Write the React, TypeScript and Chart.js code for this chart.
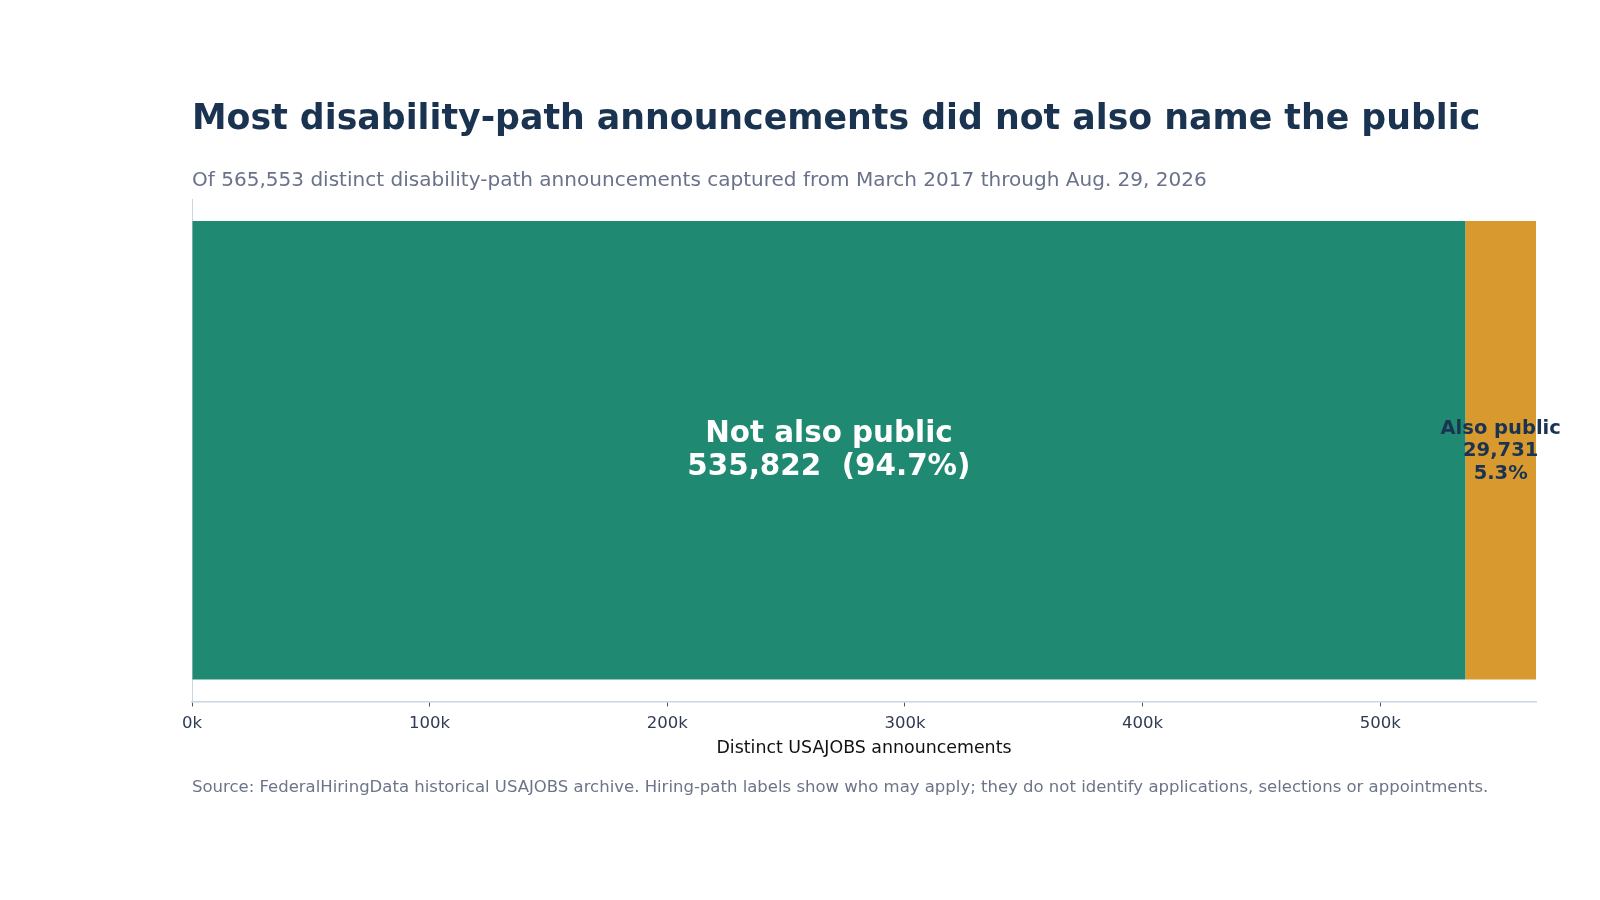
import React, { useEffect, useRef } from "react";
import { Chart, registerables } from "chart.js";

Chart.register(...registerables);

// ---- data ----
const categories = ["Disability-path announcements"];
const seriesNames = ["Not also public", "Also public"];
const notAlsoPublic = [535822];
const alsoPublic = [29731];
const totalAnnouncements = 565553;
const tickValues = [0, 100000, 200000, 300000, 400000, 500000];
const tickLabels = ["0k", "100k", "200k", "300k", "400k", "500k"];

const titleText = "Most disability-path announcements did not also name the public";
const subtitleText =
  "Of 565,553 distinct disability-path announcements captured from March 2017 through Aug. 29, 2026";
const sourceText =
  "Source: FederalHiringData historical USAJOBS archive. Hiring-path labels show who may apply; they do not identify applications, selections or appointments.";
const axisTitle = "Distinct USAJOBS announcements";

const GREEN = "#208971";
const ORANGE = "#D8992E";
const NAVY = "#1A3350";
const AXIS = "#C9D4E4";

const fmt = (n: number) => n.toLocaleString("en-US");

const textPlugin = {
  id: "textPlugin",
  afterDraw(chart: any) {
    const ctx = chart.ctx;
    ctx.save();
    ctx.textAlign = "left";
    ctx.textBaseline = "alphabetic";
    ctx.fillStyle = NAVY;
    ctx.font = "bold 34.75px 'DejaVu Sans'";
    ctx.fillText(titleText, 192, 129);
    ctx.fillStyle = "#69728A";
    ctx.font = "20.05px 'DejaVu Sans'";
    ctx.fillText(subtitleText, 192, 186);
    ctx.fillStyle = "#6B7489";
    ctx.font = "16.5px 'DejaVu Sans'";
    ctx.fillText(sourceText, 192, 792);

    // bar labels
    const m0 = chart.getDatasetMeta(0).data[0];
    const m1 = chart.getDatasetMeta(1).data[0];
    const total = notAlsoPublic[0] + alsoPublic[0];
    ctx.textAlign = "center";
    ctx.textBaseline = "middle";
    if (m0) {
      const cx = (m0.x + m0.base) / 2;
      ctx.fillStyle = "#FFFFFF";
      ctx.font = "bold 29.4px 'DejaVu Sans'";
      ctx.fillText(seriesNames[0], cx, m0.y - 16);
      ctx.fillText(
        fmt(notAlsoPublic[0]) + "  (" + ((notAlsoPublic[0] / total) * 100).toFixed(1) + "%)",
        cx,
        m0.y + 17
      );
    }
    if (m1) {
      const cx = (m1.x + m1.base) / 2;
      ctx.fillStyle = NAVY;
      ctx.font = "bold 19.5px 'DejaVu Sans'";
      ctx.fillText(seriesNames[1], cx, m1.y - 21.5);
      ctx.fillText(fmt(alsoPublic[0]), cx, m1.y + 1);
      ctx.fillText(((alsoPublic[0] / total) * 100).toFixed(1) + "%", cx, m1.y + 23.5);
    }
    ctx.restore();
  },
};

export default function App() {
  const ref = useRef<HTMLCanvasElement | null>(null);
  useEffect(() => {
    if (!ref.current) return;
    const chart = new Chart(ref.current, {
      type: "bar",
      data: {
        labels: categories,
        datasets: [
          {
            label: seriesNames[0],
            data: notAlsoPublic,
            backgroundColor: GREEN,
            borderWidth: 0,
            barPercentage: 0.912,
            categoryPercentage: 1,
          },
          {
            label: seriesNames[1],
            data: alsoPublic,
            backgroundColor: ORANGE,
            borderWidth: 0,
            barPercentage: 0.912,
            categoryPercentage: 1,
          },
        ],
      },
      options: {
        indexAxis: "y",
        responsive: false,
        animation: false,
        layout: { padding: { left: 192, right: 64, top: 199, bottom: 141.3 } },
        plugins: {
          legend: { display: false },
          tooltip: { enabled: false },
          title: { display: false },
        },
        scales: {
          x: {
            stacked: true,
            min: 0,
            max: totalAnnouncements,
            afterFit: (s: any) => {
              s.height = 57.2;
            },
            afterBuildTicks: (s: any) => {
              s.ticks = tickValues.map((v) => ({ value: v }));
            },
            ticks: {
              padding: 7,
              color: "#2E3B52",
              font: { family: "DejaVu Sans", size: 16.5 },
              callback: (v: any) => tickLabels[tickValues.indexOf(Number(v))] ?? "",
              maxRotation: 0,
              autoSkip: false,
            },
            grid: {
              drawOnChartArea: false,
              drawTicks: true,
              tickLength: 5,
              tickColor: "#555555",
            },
            border: { display: true, color: AXIS, width: 1.5 },
            title: {
              display: true,
              text: axisTitle,
              color: "#111111",
              font: { family: "DejaVu Sans", size: 17.4 },
              padding: 0,
            },
          },
          y: {
            stacked: true,
            afterFit: (s: any) => {
              s.width = 0;
            },
            ticks: { display: false },
            grid: { display: false, drawTicks: false },
            border: { display: true, color: AXIS, width: 1 },
          },
        },
      },
      plugins: [textPlugin],
    });
    return () => chart.destroy();
  }, []);
  return (
    <div style={{ position: "fixed", left: 0, top: 0, width: 1600, height: 900, background: "#fff" }}>
      <canvas ref={ref} width={1600} height={900} style={{ display: "block" }} />
    </div>
  );
}
